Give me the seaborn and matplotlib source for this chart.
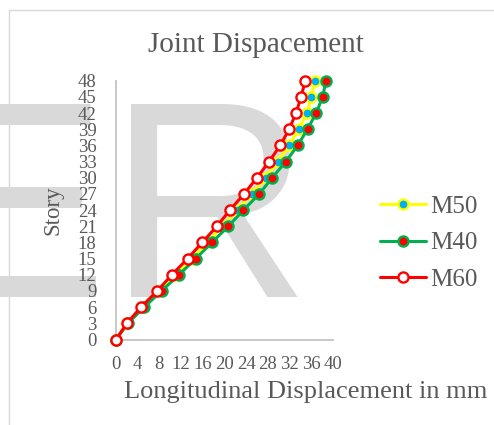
import matplotlib
matplotlib.use("Agg")
import matplotlib.pyplot as plt
import seaborn as sns
import pandas as pd
from matplotlib.lines import Line2D

# ---- data ----
stories = [0, 3, 6, 9, 12, 15, 18, 21, 24, 27, 30, 33, 36, 39, 42, 45, 48]
m50 = [0, 2.1, 4.9, 8.0, 11.0, 14.0, 16.8, 19.6, 22.3, 25.0, 27.6, 29.8, 31.9, 33.7, 35.2, 36.0, 36.6]
m40 = [0, 2.2, 5.2, 8.4, 11.6, 14.7, 17.7, 20.7, 23.5, 26.4, 28.8, 31.3, 33.5, 35.3, 36.9, 38.1, 38.7]
m60 = [0, 2.0, 4.6, 7.6, 10.3, 13.2, 15.9, 18.6, 21.0, 23.6, 26.0, 28.2, 30.3, 31.9, 33.2, 34.1, 34.9]
series_names = ["M50", "M40", "M60"]
x_ticks = list(range(0, 41, 4))
y_ticks = list(range(0, 49, 3))

sns.set_theme(style="white")
plt.rcParams['font.family'] = ['Liberation Serif', 'DejaVu Serif']

W, H = 494, 425
fig = plt.figure(figsize=(W / 100, H / 100), dpi=100)
fig.patch.set_facecolor("white")

# watermark "ER"
fig.text(-79 / W, 1 - 297 / H, "ER", fontsize=202, color="#d9d9d9",
         family="Liberation Sans", ha="left", va="baseline", zorder=-5)

# thin chart border
fig.add_artist(Line2D([9 / W, 9 / W], [1 - 10 / H, 0], transform=fig.transFigure,
                      color="#d9d9d9", lw=1))
fig.add_artist(Line2D([9 / W, 1], [1 - 10 / H, 1 - 10 / H], transform=fig.transFigure,
                      color="#d9d9d9", lw=1))

ax = fig.add_axes([116 / W, 1 - 339.5 / H, 217 / W, (339.5 - 80.7) / H])
ax.set_facecolor("none")

df = pd.DataFrame({"Story": stories * 3,
                   "Disp": m50 + m40 + m60,
                   "Series": sum([[n] * len(stories) for n in series_names], [])})

styles = {
    "M50": dict(color="#ffff00", mfc="#00b0f0", mec="#ffff00"),
    "M40": dict(color="#00b050", mfc="#ff0000", mec="#00b050"),
    "M60": dict(color="#ff0000", mfc="#ffffff", mec="#ff0000"),
}
MS, MEW, LW = 7.3, 1.7, 2.2
for i, name in enumerate(series_names):
    st = styles[name]
    sns.lineplot(data=df[df["Series"] == name], x="Disp", y="Story", orient="y",
                 ax=ax, color=st["color"], lw=LW, marker="o", markersize=MS,
                 markerfacecolor=st["mfc"], markeredgecolor=st["mec"],
                 markeredgewidth=MEW, zorder=3 + i, clip_on=False)

ax.set_xlim(0, 40)
ax.set_ylim(0, 48)
ax.set_xticks(x_ticks)
ax.set_yticks(y_ticks)
ax.set_xlabel("")
ax.set_ylabel("")
ax.tick_params(axis="both", length=0, labelsize=13.5, colors="#595959")
ax.tick_params(axis="y", pad=14)
ax.tick_params(axis="x", pad=12)
for s in ["top", "right"]:
    ax.spines[s].set_visible(False)
for s in ["left", "bottom"]:
    ax.spines[s].set_color("#bfbfbf")
    ax.spines[s].set_linewidth(1.2)

# texts
fig.text(256 / W, 1 - 52 / H, "Joint Dispacement", fontsize=21, color="#595959",
         ha="center", va="baseline")
fig.text(306 / W, 1 - 398 / H, "Longitudinal Displacement in mm", fontsize=19,
         color="#595959", ha="center", va="baseline")
fig.text(53 / W, 1 - 210 / H, "Story", fontsize=16.5, color="#595959",
         ha="center", va="center", rotation=90)

handles = []
for name in series_names:
    st = styles[name]
    handles.append(Line2D([], [], color=st["color"], lw=LW, marker="o", markersize=MS,
                          markerfacecolor=st["mfc"], markeredgecolor=st["mec"],
                          markeredgewidth=MEW))
leg = fig.legend(handles, series_names, loc="center left",
                 bbox_to_anchor=(380 / W, 1 - 243 / H), frameon=False,
                 fontsize=18, borderpad=0, borderaxespad=0, handlelength=1.85,
                 handletextpad=0.15, labelspacing=0.55)
for t in leg.get_texts():
    t.set_color("#595959")

fig.savefig("out.png", dpi=100)
